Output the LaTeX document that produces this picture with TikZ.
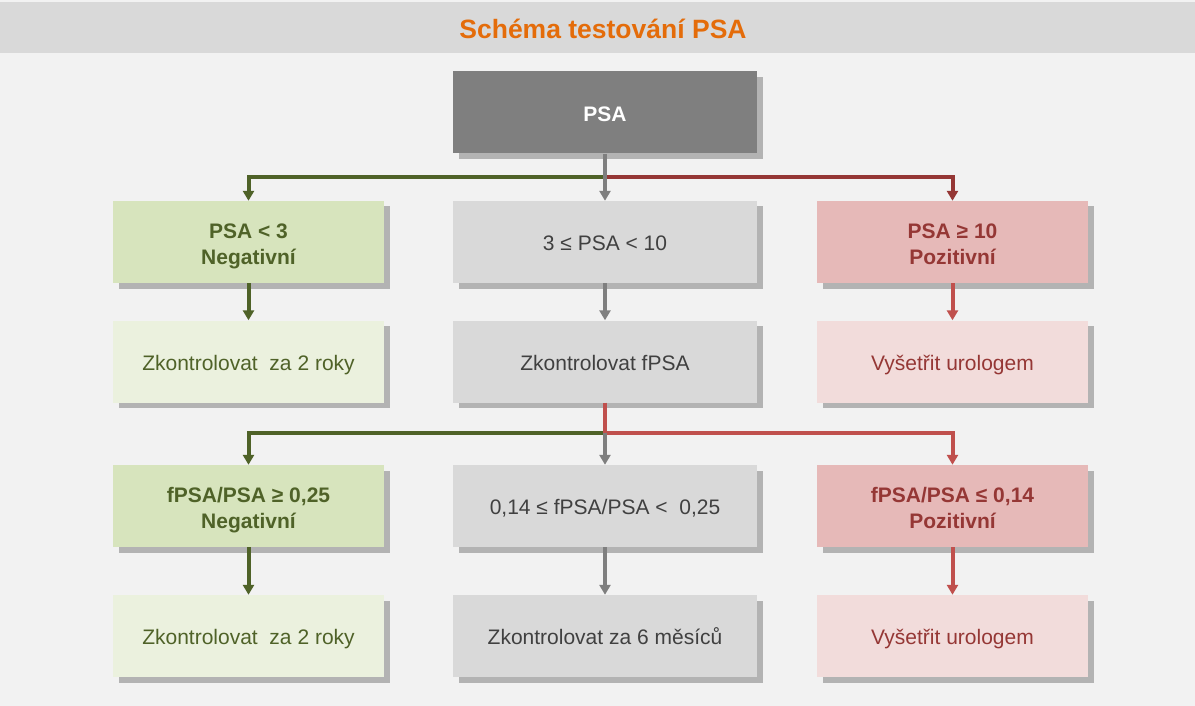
\documentclass[tikz,border=0pt]{standalone}
\usepackage{fontspec}
\setmainfont{Liberation Sans}
\usetikzlibrary{arrows.meta,shadows}
\definecolor{bg}{HTML}{F2F2F2}
\definecolor{titlebar}{HTML}{D9D9D9}
\definecolor{titleor}{HTML}{E46C0A}
\definecolor{topgray}{HTML}{7F7F7F}
\definecolor{shade}{HTML}{B3B3B3}
\definecolor{grnfill}{HTML}{D7E4BD}
\definecolor{grnlight}{HTML}{EBF1DE}
\definecolor{grnline}{HTML}{4F6228}
\definecolor{grayfill}{HTML}{D9D9D9}
\definecolor{graytext}{HTML}{404040}
\definecolor{redfill}{HTML}{E6B9B8}
\definecolor{redlight}{HTML}{F2DCDB}
\definecolor{reddark}{HTML}{953735}
\definecolor{redline}{HTML}{C0504D}
\newcommand{\twolines}[2]{\raisebox{12pt}[0pt][0pt]{\begin{tabular}[t]{@{}c@{}}#1\\#2\end{tabular}}}
\tikzset{
  box/.style={minimum height=82pt, inner sep=0pt, align=center,
    text height=17.2pt, text depth=0pt,
    font=\fontsize{21}{26}\selectfont,
    drop shadow={shadow xshift=5.5pt, shadow yshift=-5.5pt, fill=shade, opacity=1}},
  sidebox/.style={box, minimum width=271pt},
  midbox/.style={box, minimum width=304pt},
  grnhead/.style={sidebox, fill=grnfill, text=grnline, font=\fontsize{21}{26}\selectfont\bfseries},
  grnres/.style={sidebox, fill=grnlight, text=grnline},
  redhead/.style={sidebox, fill=redfill, text=reddark, font=\fontsize{21}{26}\selectfont\bfseries},
  redres/.style={sidebox, fill=redlight, text=reddark},
  graybox/.style={midbox, fill=grayfill, text=graytext},
  conn/.style={line width=4pt, -{Triangle[width=11pt,length=10pt]}},
}
\begin{document}
\begin{tikzpicture}[x=1pt,y=-1pt]
\useasboundingbox (0,0) rectangle (1195,706);
\fill[bg] (0,0) rectangle (1195,706);
\fill[titlebar] (0,2) rectangle (1195,53);
\node[text=titleor, font=\fontsize{26.5}{30}\selectfont\bfseries, anchor=base] (title) at (603,39) {Schéma testování PSA};

\node[midbox, fill=topgray, text=white, font=\fontsize{21}{26}\selectfont\bfseries] (psa) at (605,112.5) {PSA};

\node[grnhead] (l1) at (248.5,242) {\twolines{PSA < 3}{Negativní}};
\node[graybox] (m1) at (605,242) {3 ≤ PSA < 10};
\node[redhead] (r1) at (952.5,242) {\twolines{PSA ≥ 10}{Pozitivní}};

\node[grnres] (l2) at (248.5,361.5) {Zkontrolovat\ \ za 2 roky};
\node[graybox] (m2) at (605,361.5) {Zkontrolovat fPSA};
\node[redres] (r2) at (952.5,361.5) {Vyšetřit urologem};

\node[grnhead] (l3) at (248.5,506) {\twolines{fPSA/PSA ≥ 0,25}{Negativní}};
\node[graybox] (m3) at (605,506) {0,14 ≤ fPSA/PSA <\ \ 0,25};
\node[redhead] (r3) at (952.5,506) {\twolines{fPSA/PSA ≤ 0,14}{Pozitivní}};

\node[grnres] (l4) at (248.5,636) {Zkontrolovat\ \ za 2 roky};
\node[graybox] (m4) at (605,636) {Zkontrolovat za 6 měsíců};
\node[redres] (r4) at (952.5,636) {Vyšetřit urologem};

\coordinate (j1) at (605,177);
\coordinate (j2) at (605,433);

% first split
\draw[conn, grnline] (j1) -| (l1.north);
\draw[conn, reddark] (j1) -| (r1.north);
\draw[conn, topgray] (psa.south) -- (m1.north);

% row1 -> row2
\draw[conn, grnline] (l1.south) -- (l2.north);
\draw[conn, topgray] (m1.south) -- (m2.north);
\draw[conn, redline] (r1.south) -- (r2.north);

% second split
\draw[conn, grnline] (j2) -| (l3.north);
\draw[conn, redline] (m2.south) -- (j2) -| (r3.north);
\draw[conn, topgray] (j2) -- (m3.north);

% row3 -> row4
\draw[conn, grnline] (l3.south) -- (l4.north);
\draw[conn, topgray] (m3.south) -- (m4.north);
\draw[conn, redline] (r3.south) -- (r4.north);
\end{tikzpicture}
\end{document}
